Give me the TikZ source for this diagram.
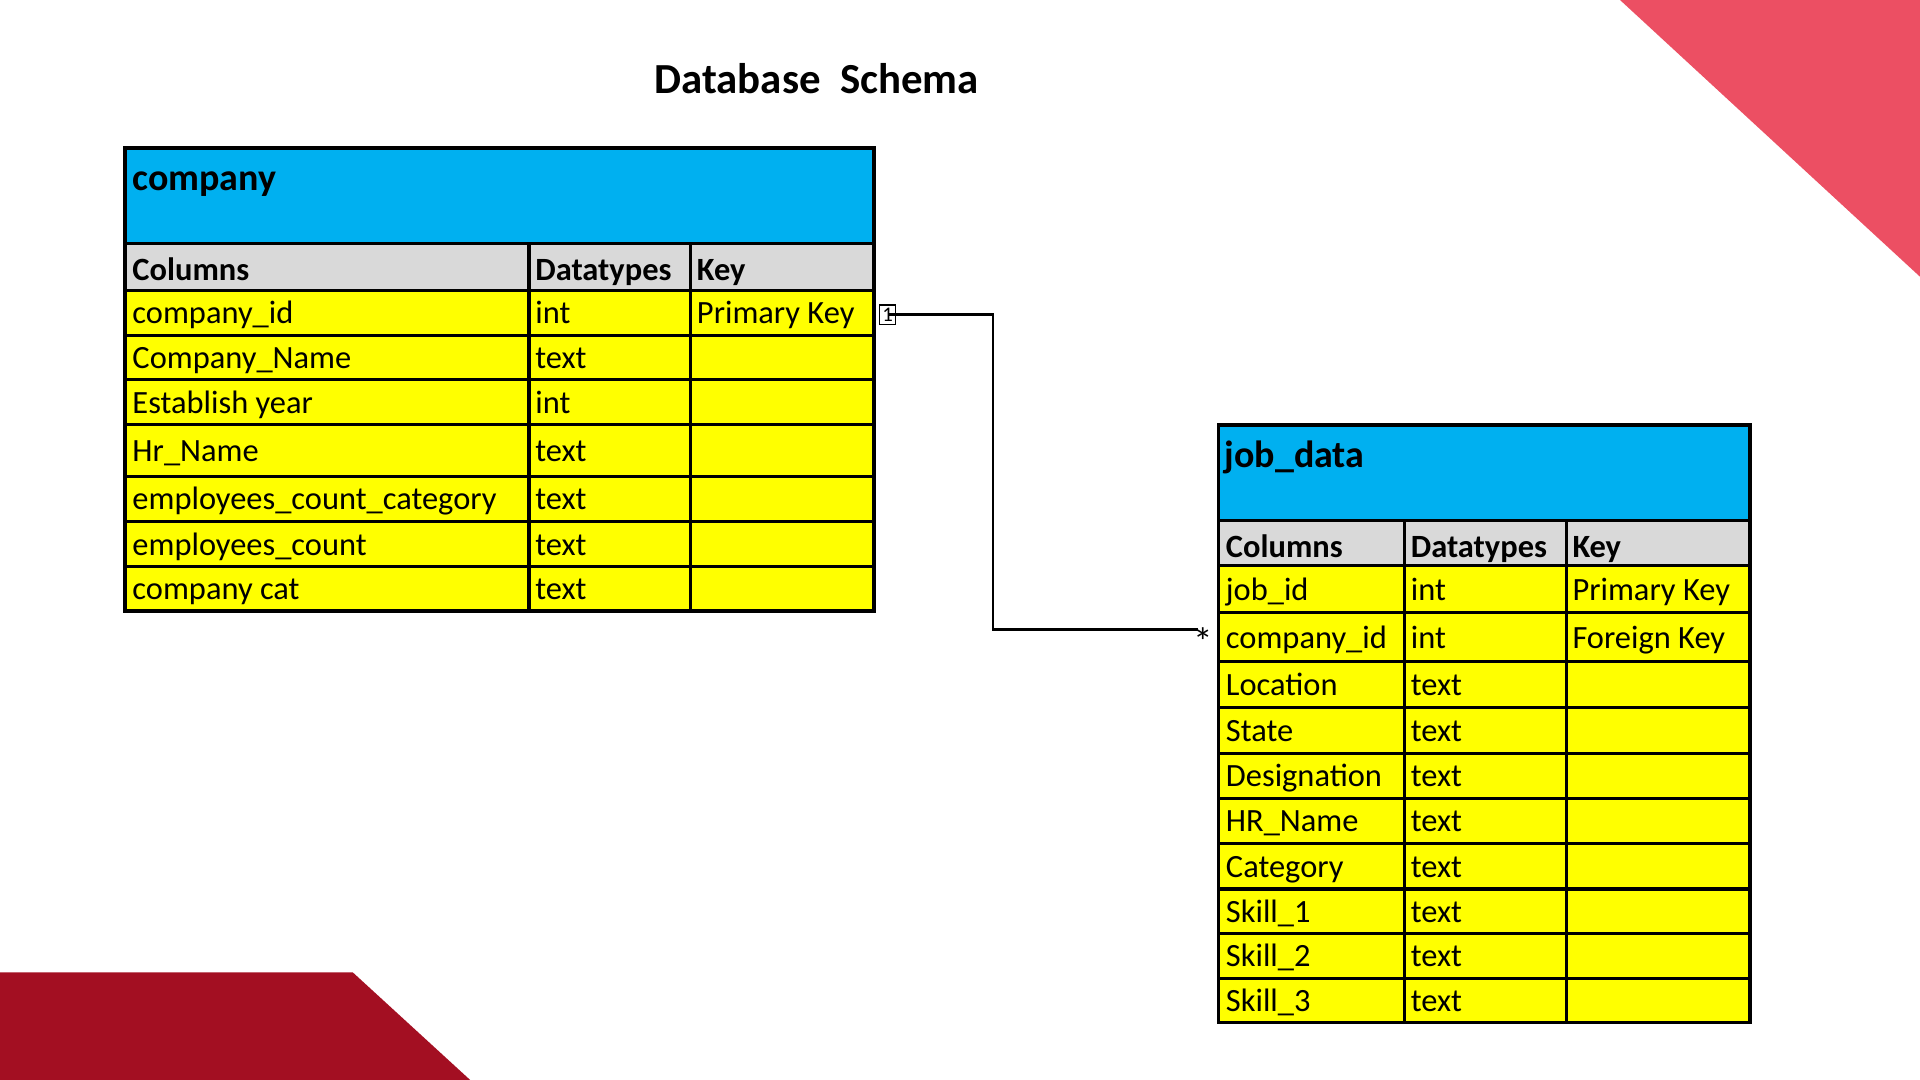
\documentclass[tikz,border=0pt]{standalone}
\usepackage{fontspec}
\setmainfont{Carlito}
\definecolor{hdrblue}{HTML}{00B0F0}
\definecolor{rowyellow}{HTML}{FFFF00}
\definecolor{hdrgray}{HTML}{D9D9D9}
\definecolor{pinkred}{HTML}{EC4F63}
\definecolor{darkred}{HTML}{A30F22}
\tikzset{
  cell/.style={anchor=mid west, inner sep=0pt, yshift=-6pt, font=\fontsize{26.5}{28}\selectfont},
  hcell/.style={cell, font=\fontsize{26.5}{28}\selectfont\bfseries},
  tname/.style={anchor=mid west, inner sep=0pt, yshift=-7pt, font=\fontsize{31}{33}\selectfont\bfseries},
  grid/.style={line width=2.5pt, black},
  outer/.style={line width=3pt, black},
  conn/.style={line width=2pt, black},
}
\begin{document}
\begin{tikzpicture}[x=1pt,y=-1pt]
\useasboundingbox (0,0) rectangle (1568,882);
% background decorations
\fill[pinkred] (1323,0) -- (1568,0) -- (1568,226) -- cycle;
\fill[darkred] (0,794) -- (288,794) -- (384,882) -- (0,882) -- cycle;
% title
\node[anchor=mid, inner sep=0pt, yshift=-8pt, font=\fontsize{35}{37}\selectfont\bfseries] (title) at (667,66) {Database\ \ Schema};

% ---------- company table ----------
\fill[hdrblue] (102,121) rectangle (714,199);
\fill[hdrgray] (102,199) rectangle (714,237);
\fill[rowyellow] (102,237) rectangle (714,499);
\foreach \yy in {199,237,274,310,347,389,426,463}
  \draw[grid] (102,\yy) -- (714,\yy);
\draw[grid] (432,199) -- (432,499);
\draw[grid] (564,199) -- (564,499);
\draw[outer] (102,121) rectangle (714,499);
\node[tname] (company) at (108,146) {company};
\node[hcell] (cHa) at (108,221) {Columns};
\node[hcell] (cHb) at (437,221) {Datatypes};
\node[hcell] (cHc) at (569,221) {Key};
\foreach \yy/\ta/\tb/\tc [count=\i] in {
  256/company\_id/int/Primary Key,
  292.5/Company\_Name/text/,
  329/Establish year/int/,
  368.5/Hr\_Name/text/,
  408/employees\_count\_category/text/,
  445/employees\_count/text/,
  481.5/company cat/text/}{
  \node[cell] (cRa\i) at (108,\yy) {\ta};
  \node[cell] (cRb\i) at (437,\yy) {\tb};
  \node[cell] (cRc\i) at (569,\yy) {\tc};
}

% ---------- job_data table ----------
\fill[hdrblue] (995,347) rectangle (1429,425);
\fill[hdrgray] (995,425) rectangle (1429,462);
\fill[rowyellow] (995,462) rectangle (1429,835);
\foreach \yy in {425,462,500,540,578,615,652,689,726,762,799}
  \draw[grid] (995,\yy) -- (1429,\yy);
\draw[grid] (1147,425) -- (1147,835);
\draw[grid] (1279,425) -- (1279,835);
\draw[outer] (995,347) rectangle (1429,835);
\node[tname] (jobdata) at (1000,372) {job\_data};
\node[hcell] (jHa) at (1001,447) {Columns};
\node[hcell] (jHb) at (1152,447) {Datatypes};
\node[hcell] (jHc) at (1284,447) {Key};
\foreach \yy/\ta/\tb/\tc [count=\i] in {
  482/job\_id/int/Primary Key,
  521/company\_id/int/Foreign Key,
  560/Location/text/,
  597/State/text/,
  634/Designation/text/,
  671/HR\_Name/text/,
  708/Category/text/,
  745/Skill\_1/text/,
  781/Skill\_2/text/,
  818/Skill\_3/text/}{
  \node[cell] (jRa\i) at (1001,\yy) {\ta};
  \node[cell] (jRb\i) at (1152,\yy) {\tb};
  \node[cell] (jRc\i) at (1284,\yy) {\tc};
}

% ---------- relationship ----------
\node[draw, line width=1pt, fill=white, inner sep=0pt, minimum width=13pt, minimum height=16pt,
      font=\fontsize{17}{17}\selectfont] (one) at (725,257) {1};
\node[inner sep=0pt, font=\fontsize{32}{32}\selectfont] (many) at (983,524) {*};
\coordinate (fk) at (978,514);
\draw[conn] (one.center) -- (811,257) |- (fk);
\end{tikzpicture}
\end{document}
